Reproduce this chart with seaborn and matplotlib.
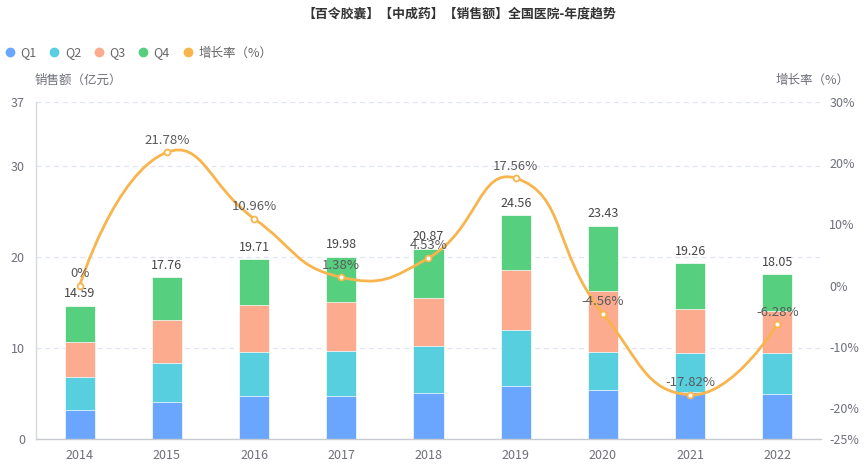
import matplotlib
matplotlib.use("Agg")
import matplotlib.pyplot as plt
import seaborn as sns
import pandas as pd
import numpy as np
from matplotlib.path import Path
from matplotlib.patches import PathPatch

years = ['2014', '2015', '2016', '2017', '2018', '2019', '2020', '2021', '2022']
q1 = [3.17, 3.99, 4.65, 4.65, 4.98, 5.78, 5.37, 5.15, 4.93]
q2 = [3.60, 4.29, 4.91, 5.02, 5.24, 6.13, 4.16, 4.30, 4.52]
q3 = [3.89, 4.74, 5.14, 5.33, 5.29, 6.65, 6.75, 4.85, 4.62]
q4 = [3.93, 4.74, 5.01, 4.98, 5.36, 6.00, 7.15, 4.96, 3.98]
totals = [14.59, 17.76, 19.71, 19.98, 20.87, 24.56, 23.43, 19.26, 18.05]
growth = [0, 21.78, 10.96, 1.38, 4.53, 17.56, -4.56, -17.82, -6.28]

c_q1 = '#6AA5FE'
c_q2 = '#57CFDF'
c_q3 = '#FDAB8F'
c_q4 = '#56CF7F'
c_line = '#F8B44D'

sns.set_theme(style='white')
plt.rcParams['font.family'] = ['Noto Sans CJK SC', 'DejaVu Sans']
plt.rcParams['axes.unicode_minus'] = False

df = pd.DataFrame({'year': years, 'q1': q1, 'q2': q2, 'q3': q3, 'q4': q4})
df['c2'] = df['q1'] + df['q2']
df['c3'] = df['c2'] + df['q3']
df['c4'] = df['c3'] + df['q4']

fig = plt.figure(figsize=(8.66, 4.66), dpi=100)
W, H = 866, 466
L, R, T, B = 36, 821, 102, 438.8
ax = fig.add_axes([L / W, (H - B) / H, (R - L) / W, (B - T) / H])

# stacked bars: draw cumulative totals from the top layer down
for col, color in [('c4', c_q4), ('c3', c_q3), ('c2', c_q2), ('q1', c_q1)]:
    sns.barplot(data=df, x='year', y=col, color=color, width=0.345, ax=ax,
                saturation=1, edgecolor='#ffffff', linewidth=0.5, zorder=2)

ax.set_xlim(-0.5, len(years) - 0.5)
ax.set_ylim(0, 37)
ax.set_yticks([0, 10, 20, 30, 37])
ax.set_xlabel('')
ax.set_ylabel('')
ax.yaxis.grid(True, linestyle=(0, (4, 3)), color='#E0E6F1', linewidth=0.9, zorder=0)
ax.xaxis.grid(False)
ax.set_axisbelow(True)
for s in ['top', 'right']:
    ax.spines[s].set_visible(False)
ax.spines['left'].set_color('#D5DBDB')
ax.spines['bottom'].set_color('#C8CCD0')
ax.spines['left'].set_linewidth(1)
ax.spines['bottom'].set_linewidth(1)
ax.tick_params(axis='y', length=0, pad=8, labelsize=9, labelcolor='#6E7079')
ax.tick_params(axis='x', length=0, pad=7, labelsize=9, labelcolor='#6E7079')
# category boundary ticks
ax.set_xticks(np.arange(-0.5, len(years) + 0.5, 1), minor=True)
ax.tick_params(axis='x', which='minor', length=5, color='#C8CCD0', width=1, direction='out')

for i, t in enumerate(totals):
    ax.annotate(f'{t:.2f}', (i, t), xytext=(0, 4), textcoords='offset points',
                ha='center', va='bottom', fontsize=9, color='#464646', zorder=6)

# growth axis
ax2 = ax.twinx()
ax2.set_ylim(-25, 30)
ax2.set_yticks([-25, -20, -10, 0, 10, 20, 30])
ax2.set_yticklabels([f'{v}%' for v in [-25, -20, -10, 0, 10, 20, 30]])
for s in ['top', 'right', 'left', 'bottom']:
    ax2.spines[s].set_visible(False)
ax2.tick_params(axis='y', length=0, pad=6, labelsize=9, labelcolor='#6E7079')
ax2.grid(False)

# smooth curve (echarts-style bezier) built in display space
xs = np.arange(len(years))
pts = ax2.transData.transform(np.column_stack([xs, growth]))
smooth = 0.5
verts = [pts[0]]
codes = [Path.MOVETO]
cp0 = pts[0]
n = len(pts)
for k in range(1, n):
    p, prev = pts[k], pts[k - 1]
    if k == n - 1:
        ncp0 = p
        v = np.zeros(2)
        ratio = 0.5
    else:
        nxt = pts[k + 1]
        v = nxt - prev
        l0 = np.hypot(*(p - prev))
        l1 = np.hypot(*(nxt - p))
        ratio = l1 / (l0 + l1)
        ncp0 = p - v * smooth * (1 - ratio)
    verts += [cp0, ncp0, p]
    codes += [Path.CURVE4] * 3
    cp0 = p + v * smooth * ratio
data_verts = ax2.transData.inverted().transform(np.array(verts))
patch = PathPatch(Path(data_verts, codes), facecolor='none', edgecolor=c_line,
                  linewidth=2, zorder=4)
ax2.add_patch(patch)
sns.scatterplot(x=xs, y=growth, ax=ax2, s=18, facecolor='white', edgecolor=c_line,
                linewidth=1.3, zorder=5, legend=False)
for i, g in enumerate(growth):
    ax2.annotate(f'{g:g}%', (i, g), xytext=(0, 4), textcoords='offset points',
                 ha='center', va='bottom', fontsize=9.5, color='#5A5A5A', zorder=6)

# titles and axis names
fig.text(459 / W, 1 - 13 / H, '【百令胶囊】【中成药】【销售额】全国医院-年度趋势',
         ha='center', va='center', fontsize=9.3, fontweight='bold', color='#333333')
fig.text(35 / W, 1 - 80 / H, '销售额（亿元）', ha='left', va='center', fontsize=9, color='#6E7079')
fig.text(850 / W, 1 - 80 / H, '增长率（%）', ha='right', va='center', fontsize=9, color='#6E7079')

# legend
items = [('Q1', c_q1), ('Q2', c_q2), ('Q3', c_q3), ('Q4', c_q4), ('增长率（%）', c_line)]
handles = [plt.Line2D([], [], marker='o', linestyle='', markersize=6,
                      markerfacecolor=c, markeredgecolor=c, label=lab) for lab, c in items]
fig.legend(handles=handles, loc='center left', bbox_to_anchor=(0 / W, 1 - 53 / H),
           ncol=5, frameon=False, fontsize=9, handlelength=0.8, handletextpad=0.45,
           columnspacing=1.0, labelcolor='#666666', borderaxespad=0)

fig.savefig('out.png', dpi=100)
